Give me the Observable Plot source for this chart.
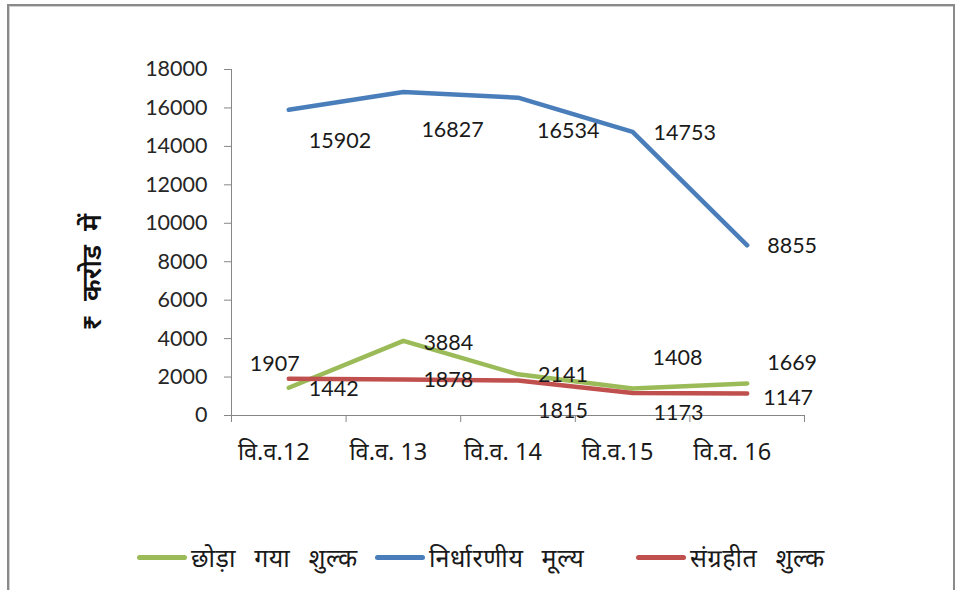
<!DOCTYPE html>
<html>
<head>
<meta charset="utf-8">
<script src="https://cdn.jsdelivr.net/npm/d3@7"></script>
<script src="https://cdn.jsdelivr.net/npm/@observablehq/plot@0.6"></script>
<style>
  html, body { margin: 0; padding: 0; background: #fff; }
  #wrap { position: relative; width: 960px; height: 590px; overflow: hidden; font-family: "Noto Sans Devanagari", "Lohit Devanagari", Lato, "Noto Sans", sans-serif; }
  #frame { position: absolute; left: 7px; top: 4px; width: 944px; height: 600px; border: 2px solid #8a8a8a; box-shadow: inset 1px 1px 0 #d0d0d0; }
  #chart { position: absolute; left: 0; top: 0; }
  #ylabel { position: absolute; left: 94px; top: 272px; transform: translate(-50%, -50%) rotate(-90deg); font-size: 27px; font-weight: 600; word-spacing: 7px; white-space: nowrap; color: #111; }
  #legend { position: absolute; top: 546px; left: 0; width: 960px; height: 30px; font-size: 25px; letter-spacing: 0.6px; word-spacing: 11px; color: #1a1a1a; }
  .item { position: absolute; top: 0; display: flex; align-items: center; height: 30px; white-space: nowrap; }
  .sw { display: inline-block; width: 50px; height: 5px; border-radius: 3px; margin-right: 4px; margin-top: -8px; }
</style>
</head>
<body>
<div id="wrap">
  <div id="frame"></div>
  <div id="chart"></div>
  <div id="ylabel">₹ करोड में</div>
  <div id="legend"></div>
</div>
<script>
// ---- data ----
const categories = ["वि.व.12", "वि.व. 13", "वि.व. 14", "वि.व.15", "वि.व. 16"];
const seriesNames = ["छोड़ा गया शुल्क", "निर्धारणीय मूल्य", "संग्रहीत शुल्क"];
const waived = [1442, 3884, 2141, 1408, 1669];        // छोड़ा गया शुल्क
const assessable = [15902, 16827, 16534, 14753, 8855]; // निर्धारणीय मूल्य
const collected = [1907, 1878, 1815, 1173, 1147];     // संग्रहीत शुल्क
const yTicks = [0, 2000, 4000, 6000, 8000, 10000, 12000, 14000, 16000, 18000];

// ---- styling (label placement offsets, as in the original) ----
const colors = ["#9bbb59", "#4a7ebb", "#c0504d"];
const labelDx = [[20, 20, 20, 20, 20], [20, 18, 19, 21, 20], [-39, 20, 20, 21, 16]];
const labelDy = [[1, 2, 1, -30, -20], [31, 38, 33, 1, 1], [-15, 1, 30, 20, 5]];

const seriesValues = [waived, assessable, collected];
const rows = [];
seriesValues.forEach((vals, s) => vals.forEach((v, i) => rows.push({s, i, v, dx: labelDx[s][i], dy: labelDy[s][i]})));

const numFont = "Lato, 'Open Sans', sans-serif";
const gray = "#868686";

const labelMarks = rows.map(r => Plot.text([r], {
  x: "i", y: "v", text: d => String(d.v), textAnchor: "start",
  dx: r.dx, dy: r.dy, fontSize: 21.5, fill: "#1a1a1a", fontFamily: numFont
}));

const chart = Plot.plot({
  width: 960, height: 480,
  marginLeft: 231, marginRight: 156, marginTop: 69, marginBottom: 65,
  style: {background: "transparent", overflow: "visible"},
  x: {type: "linear", domain: [-0.5, categories.length - 0.5], axis: null},
  y: {domain: [0, 18000], axis: null},
  marks: [
    Plot.ruleY([0], {stroke: gray, strokeWidth: 1}),
    Plot.ruleX([-0.5], {y1: 0, y2: 18000, stroke: gray, strokeWidth: 1}),
    Plot.axisY({ticks: yTicks, tickSize: 7, tickPadding: 17, stroke: gray, fontSize: 21.5, fill: "#262626", fontFamily: numFont, label: null, tickFormat: d => String(d)}),
    Plot.axisX({ticks: d3.range(categories.length + 1).map(i => i - 0.5), tickSize: 7, stroke: gray, tickFormat: () => "", label: null}),
    Plot.axisX({ticks: d3.range(categories.length), tickSize: 0, tickPadding: 28, tickFormat: i => categories[i], fontSize: 23.5, fill: "#1a1a1a", dx: -15, label: null}),
    ...seriesValues.map((vals, s) => Plot.line(vals.map((v, i) => ({i, v})), {x: "i", y: "v", stroke: colors[s], strokeWidth: 4.5, strokeLinejoin: "round", strokeLinecap: "round"})),
    ...labelMarks
  ]
});
document.getElementById("chart").appendChild(chart);

// legend
const legendX = [137, 375, 636];
const legend = document.getElementById("legend");
seriesNames.forEach((name, s) => {
  const it = document.createElement("div");
  it.className = "item";
  it.style.left = legendX[s] + "px";
  it.innerHTML = `<span class="sw" style="background:${colors[s]}"></span><span>${name}</span>`;
  legend.appendChild(it);
});
</script>
</body>
</html>
